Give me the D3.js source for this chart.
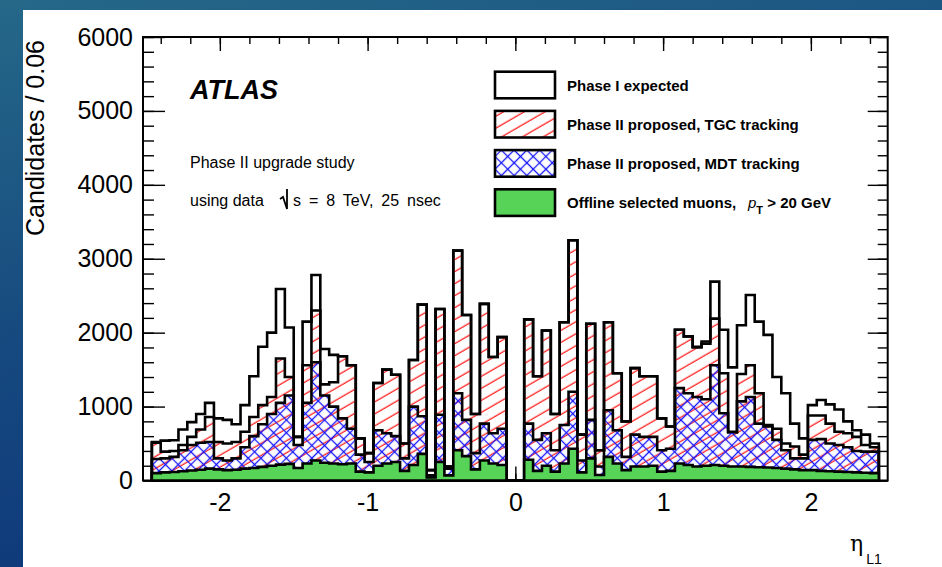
<!DOCTYPE html>
<html>
<head>
<meta charset="utf-8">
<script src="https://cdn.jsdelivr.net/npm/d3@7"></script>
<style>
  body { margin: 0; background: #123f7a; }
  svg text { font-family: "Liberation Sans", Arial, Helvetica, sans-serif; fill: black; }
</style>
</head>
<body>
<div id="wrapper"></div>
<script>
// histogram bins: 82 bins of 0.06 in eta, starting at -2.46
const etaLow = -2.46
const etaBinWidth = 0.06

// candidates per bin (left to right)
const phaseOne = [
  520, 540, 545, 690, 790, 900, 1050, 840, 820, 760,
  1020, 1410, 1810, 2000, 2590, 2070, 590, 2150, 2780, 1780,
  1700, 1680, 1560, 570, 370, 1320, 1500, 1430, 500, 1630,
  2380, 140, 2320, 190, 3110, 2240, 900, 2390, 1670, 1940,
  0, 0, 2180, 1410, 2030, 900, 2140, 3250, 620, 2120,
  410, 2140, 1450, 800, 1520, 1410, 1410, 840, 730, 2040,
  1950, 1810, 1880, 2690, 2040, 1530, 2100, 2510, 2150, 1970,
  1400, 1180, 770, 570, 1020, 1090, 1030, 960, 800, 680,
  620, 500]
const tgcTracking = [
  510, 390, 400, 480, 590, 690, 860, 520, 500, 520,
  660, 860, 1020, 1130, 1650, 1400, 590, 1560, 2300, 1300,
  1330, 1680, 1560, 570, 370, 1320, 1500, 1430, 500, 1630,
  2380, 140, 2320, 190, 3110, 2240, 900, 2390, 1670, 1940,
  0, 0, 2180, 1410, 2030, 900, 2140, 3250, 620, 2120,
  410, 2140, 1450, 800, 1520, 1410, 1410, 840, 730, 2040,
  1950, 1800, 1850, 2190, 1450, 650, 1440, 1560, 1180, 750,
  700, 500, 460, 350, 880, 880, 770, 660, 640, 590,
  480, 450]
const mdtTracking = [
  290, 300, 320, 410, 480, 510, 520, 300, 270, 300,
  450, 600, 760, 900, 1050, 1150, 480, 1050, 1600, 1150,
  1000, 840, 700, 350, 250, 680, 640, 600, 300, 1000,
  870, 70, 890, 160, 1180, 820, 370, 770, 640, 700,
  0, 0, 770, 550, 640, 410, 750, 1200, 270, 820,
  190, 950, 680, 320, 620, 590, 590, 410, 430, 1250,
  1180, 1130, 1100, 1560, 910, 660, 1070, 1130, 770, 730,
  550, 410, 300, 300, 550, 560, 500, 480, 450, 400,
  390, 390]
const offlineMuons = [
  100, 110, 115, 125, 135, 145, 160, 150, 140, 145,
  160, 170, 185, 200, 215, 225, 170, 230, 270, 240,
  230, 220, 230, 120, 110, 200, 230, 250, 130, 210,
  360, 40, 250, 70, 410, 330, 150, 270, 230, 210,
  0, 0, 280, 130, 200, 120, 230, 430, 110, 300,
  75, 320, 230, 140, 190, 190, 200, 120, 130, 230,
  210, 190, 200, 210, 200, 190, 190, 185, 180, 175,
  170, 160, 150, 140, 140, 130, 125, 120, 115, 110,
  105, 100]

const yMajorTicks = [0, 1000, 2000, 3000, 4000, 5000, 6000]
const yMinorTicks = d3.range(0, 6001, 200)
const xMajorTicks = [-2, -1, 0, 1, 2]
const xMinorTicks = [-2.4, -2.2, -2, -1.8, -1.6, -1.4, -1.2, -1, -0.8, -0.6, -0.4, -0.2,
  0, 0.2, 0.4, 0.6, 0.8, 1, 1.2, 1.4, 1.6, 1.8, 2, 2.2, 2.4]
const legendLabels = [
  "Phase I expected",
  "Phase II proposed, TGC tracking",
  "Phase II proposed, MDT tracking",
  "Offline selected muons,",
]

function drawChart() {
  const width = 942
  const height = 567
  // plot frame in page pixels
  const frame = { left: 143, right: 887.7, top: 37, bottom: 480.5 }

  const svg = d3.select("#wrapper").append("svg")
    .attr("width", width)
    .attr("height", height)
    .style("display", "block")

  const defs = svg.append("defs")

  // slide background behind the pasted plot
  const bg = defs.append("linearGradient")
    .attr("id", "slide-bg")
    .attr("x1", 0).attr("y1", 0).attr("x2", 0.35).attr("y2", 1)
  bg.append("stop").attr("offset", "0%").attr("stop-color", "#256888")
  bg.append("stop").attr("offset", "55%").attr("stop-color", "#16497f")
  bg.append("stop").attr("offset", "100%").attr("stop-color", "#0e367a")

  // red single hatch, lines rising to the right
  const red = defs.append("pattern")
    .attr("id", "hatch-red")
    .attr("patternUnits", "userSpaceOnUse")
    .attr("width", 10).attr("height", 10.4)
    .attr("patternTransform", "rotate(-30)")
  red.append("line")
    .attr("x1", -1).attr("x2", 11).attr("y1", 5).attr("y2", 5)
    .attr("stroke", "#ff2626").attr("stroke-width", 1.3)

  // blue cross hatch
  const blue = defs.append("pattern")
    .attr("id", "hatch-blue")
    .attr("patternUnits", "userSpaceOnUse")
    .attr("width", 9).attr("height", 9)
    .attr("patternTransform", "rotate(45)")
  blue.append("line")
    .attr("x1", -1).attr("x2", 10).attr("y1", 4.5).attr("y2", 4.5)
    .attr("stroke", "#1616ff").attr("stroke-width", 1.3)
  blue.append("line")
    .attr("y1", -1).attr("y2", 10).attr("x1", 4.5).attr("x2", 4.5)
    .attr("stroke", "#1616ff").attr("stroke-width", 1.3)

  svg.append("rect")
    .attr("width", width).attr("height", height)
    .attr("fill", "url(#slide-bg)")
  svg.append("rect")
    .attr("x", 23).attr("y", 10)
    .attr("width", width - 23).attr("height", height - 10)
    .attr("fill", "white")

  const xScale = d3.scaleLinear()
    .domain([-2.52, 2.52])
    .range([frame.left, frame.right])
  const yScale = d3.scaleLinear()
    .domain([0, 6000])
    .range([frame.bottom, frame.top])

  // plain hyphen minus like ROOT prints it
  const plainFormat = d => String(d)

  // ticks first, the filled histograms cover them like in the ROOT plot
  const axes = svg.append("g").attr("class", "axes")
  const tickStyle = g => {
    g.select(".domain").remove()
    g.selectAll(".tick line").attr("stroke", "black").attr("stroke-width", 1.4)
    g.selectAll("text").attr("fill", "black").style("font-size", "25px")
  }
  // minor ticks
  axes.append("g")
    .attr("transform", `translate(${frame.left},0)`)
    .call(d3.axisLeft(yScale).tickValues(yMinorTicks).tickSize(-11).tickFormat(""))
    .call(tickStyle)
  axes.append("g")
    .attr("transform", `translate(${frame.right},0)`)
    .call(d3.axisRight(yScale).tickValues(yMinorTicks).tickSize(-10).tickFormat(""))
    .call(tickStyle)
  axes.append("g")
    .attr("transform", `translate(0,${frame.top})`)
    .call(d3.axisTop(xScale).tickValues(xMinorTicks).tickSize(-7).tickFormat(""))
    .call(tickStyle)
  axes.append("g")
    .attr("transform", `translate(0,${frame.bottom})`)
    .call(d3.axisBottom(xScale).tickValues(xMinorTicks).tickSize(-7).tickFormat(""))
    .call(tickStyle)
  // major ticks with labels
  axes.append("g")
    .attr("transform", `translate(${frame.left},0)`)
    .call(d3.axisLeft(yScale).tickValues(yMajorTicks).tickSize(-22).tickPadding(10)
      .tickFormat(plainFormat))
    .call(tickStyle)
  axes.append("g")
    .attr("transform", `translate(${frame.right},0)`)
    .call(d3.axisRight(yScale).tickValues(yMajorTicks).tickSize(-20).tickFormat(""))
    .call(tickStyle)
  axes.append("g")
    .attr("transform", `translate(0,${frame.top})`)
    .call(d3.axisTop(xScale).tickValues(xMajorTicks).tickSize(-14).tickFormat(""))
    .call(tickStyle)
  axes.append("g")
    .attr("transform", `translate(0,${frame.bottom})`)
    .call(d3.axisBottom(xScale).tickValues(xMajorTicks).tickSize(-14).tickPadding(13)
      .tickFormat(plainFormat))
    .call(tickStyle)

  axes.append("rect")
    .attr("x", frame.left).attr("y", frame.top)
    .attr("width", frame.right - frame.left)
    .attr("height", frame.bottom - frame.top)
    .attr("fill", "none")
    .attr("stroke", "black")
    .attr("stroke-width", 2)

  // step histograms, drawn as areas with a step curve
  const edges = d3.range(phaseOne.length + 1).map(i => etaLow + i * etaBinWidth)
  const stepArea = d3.area()
    .x(d => xScale(d.x))
    .y0(yScale(0))
    .y1(d => yScale(d.v))
    .curve(d3.curveStepAfter)
  const toSteps = values => edges.map((e, i) => ({
    x: e,
    v: values[Math.min(i, values.length - 1)],
  }))

  const series = [
    { values: phaseOne, fill: "white" },
    { values: tgcTracking, fill: "url(#hatch-red)" },
    { values: mdtTracking, fill: "url(#hatch-blue)" },
    { values: offlineMuons, fill: "#57d457" },
  ]
  svg.append("g").selectAll("path")
    .data(series)
    .join("path")
    .attr("d", d => stepArea(toSteps(d.values)))
    .attr("fill", d => d.fill)
    .attr("stroke", "black")
    .attr("stroke-width", 2.6)
    .attr("stroke-linejoin", "miter")

  // legend
  const legend = svg.append("g")
  const rows = legend.selectAll("g")
    .data(series)
    .join("g")
    .attr("transform", (d, i) => `translate(495, ${71.7 + i * 39.2})`)
  rows.append("rect")
    .attr("width", 60).attr("height", 26.6)
    .attr("fill", d => d.fill)
    .attr("stroke", "black")
    .attr("stroke-width", 2.6)
  rows.append("text")
    .attr("x", 72).attr("y", 19)
    .style("font-size", "15px")
    .style("font-weight", "bold")
    .text((d, i) => legendLabels[i])
  const ptLabel = rows.filter((d, i) => i == 3).select("text")
  ptLabel.append("tspan")
    .attr("x", 253)
    .style("font-style", "italic")
    .style("font-weight", "normal")
    .text("p")
  ptLabel.append("tspan")
    .attr("dy", 6)
    .style("font-size", "11px")
    .text("T")
  ptLabel.append("tspan")
    .attr("dy", -6)
    .text(" > 20 GeV")

  // ATLAS label and the study description
  svg.append("text")
    .attr("x", 190).attr("y", 99)
    .style("font-size", "27px")
    .style("font-weight", "bold")
    .style("font-style", "italic")
    .text("ATLAS")
  svg.append("text")
    .attr("x", 190).attr("y", 168)
    .style("font-size", "16px")
    .text("Phase II upgrade study")
  svg.append("text")
    .attr("x", 190).attr("y", 206)
    .style("font-size", "16px")
    .text("using data")
  // the root-style square root sign
  svg.append("path")
    .attr("d", "M280,199 L283,197 L287,209 L287,189")
    .attr("fill", "none")
    .attr("stroke", "black")
    .attr("stroke-width", 1.8)
  svg.append("text")
    .attr("x", 293).attr("y", 206)
    .style("font-size", "16px")
    .style("word-spacing", "3.5px")
    .text("s = 8 TeV, 25 nsec")

  // axis titles
  svg.append("text")
    .attr("transform", `translate(44, 40) rotate(-90)`)
    .attr("text-anchor", "end")
    .style("font-size", "25px")
    .text("Candidates / 0.06")
  const etaTitle = svg.append("text")
    .attr("x", 850).attr("y", 551)
    .style("fill", "#000")
    .style("font-size", "22px")
    .style("font-family", "DejaVu Serif, serif")
  etaTitle.append("tspan").style("fill", "#000").text("η")
  etaTitle.append("tspan")
    .attr("dy", 13)
    .attr("dx", 3)
    .style("fill", "#000")
    .style("font-size", "14px")
    .style("font-family", "Liberation Sans, Arial, sans-serif")
    .text("L1")
}
drawChart()
</script>
</body>
</html>
